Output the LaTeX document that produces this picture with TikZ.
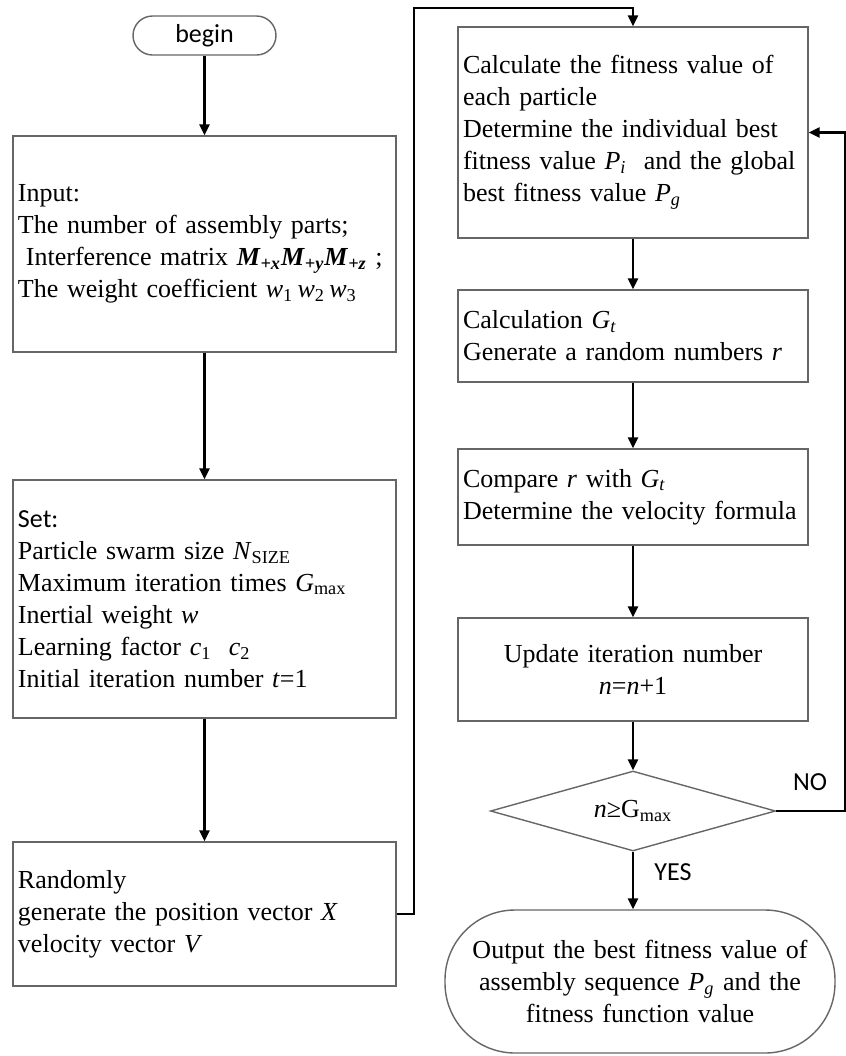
\documentclass[tikz,border=0pt]{standalone}
\usepackage{fontspec}
\setmainfont{Liberation Serif}
\newfontfamily\carlito{Carlito}
\usetikzlibrary{arrows.meta,shapes.geometric}

\newcommand\bM[1]{\textbf{\textit{M}\textsubscript{\textit{#1}}}}
\newcommand\sub[2]{\textit{#1}\textsubscript{#2}}

\tikzset{
  box/.style={draw=black!60, line width=0.7pt, align=left, inner xsep=2.5pt, inner ysep=0pt,
    font=\fontsize{13}{16}\selectfont},
  lbox/.style={box, minimum width=191.5pt, text width=186.5pt},
  rbox/.style={box, minimum width=175pt, text width=170pt},
  flow/.style={line width=1.25pt, -{Triangle[length=5.5pt,width=5pt]}},
  sanslabel/.style={font=\carlito\fontsize{13}{16}\selectfont}
}

\begin{document}
\begin{tikzpicture}[x=0.5pt, y=-0.5pt]
  \useasboundingbox (0,0) rectangle (846,1056);

  % left column
  \node[draw=black!60, line width=0.7pt, rounded corners=9.75pt, minimum width=71.5pt,
        minimum height=19.5pt, sanslabel] (begin) at (204.5,35.5) {begin};
  \node[lbox, minimum height=108pt] (input) at (204.5,244) {Input:\\
    The number of assembly parts;\\
    \mbox{\hspace*{4pt}Interference matrix \bM{+x}\bM{+y}\bM{+z} ;}\\
    The weight coefficient \sub{w}{1}\,\sub{w}{2}\,\sub{w}{3}};
  \node[lbox, minimum height=119pt] (set) at (204.5,599) {{\carlito Set:}\\
    Particle swarm size \sub{N}{SIZE}\\
    Maximum iteration times \sub{G}{max}\\
    Inertial weight \textit{w}\\
    Learning factor \sub{c}{1}\ \ \sub{c}{2}\\
    Initial iteration number \textit{t}=1};
  \node[lbox, minimum height=72pt] (rnd) at (204.5,914) {Randomly\\
    generate the position vector \textit{X}\\
    velocity vector \textit{V}};

  % right column
  \node[rbox, minimum height=105.5pt] (calc) at (633,132.5) {Calculate the fitness value of\\
    each particle\\
    Determine the individual best\\
    fitness value \sub{P}{\textit{i}}\ \ and the global\\
    best fitness value \sub{P}{\textit{g}}};
  \node[rbox, minimum height=46pt] (gt) at (633,336) {Calculation \sub{G}{\textit{t}}\\
    Generate a random numbers \textit{r}};
  \node[rbox, minimum height=48pt] (cmp) at (633,497) {Compare \textit{r} with \sub{G}{\textit{t}}\\
    Determine the velocity formula};
  \node[rbox, minimum height=51.5pt, align=center] (upd) at (633,669.5) {Update iteration number\\
    \textit{n}=\textit{n}+1};
  \node[diamond, draw=black!60, line width=0.7pt, aspect=3.5, inner sep=0pt, minimum width=142.5pt,
        minimum height=40pt, font=\fontsize{13}{16}\selectfont] (dec) at (633,811)
        {\textit{n}≥G\textsubscript{max}};
  \node[box, align=center, rounded corners=35pt, minimum width=195pt, minimum height=71.5pt,
        text width=185pt] (out) at (640,981.5) {Output the best fitness value of\\
    assembly sequence \sub{P}{\textit{g}} and the\\
    fitness function value};

  \node[sanslabel] (no) at (810,782) {NO};
  \node[sanslabel] (yes) at (673,872) {YES};

  % connectors
  \coordinate (top) at (414,8);
  \draw[flow] (begin) -- (input);
  \draw[flow] (input) -- (set);
  \draw[flow] (set) -- (rnd);
  \draw[flow] (rnd.east) -| (top) -| (calc.north);
  \draw[flow] (calc) -- (gt);
  \draw[flow] (gt) -- (cmp);
  \draw[flow] (cmp) -- (upd);
  \draw[flow] (upd) -- (dec);
  \draw[flow] (dec.south) -- (dec.south |- out.north);
  \draw[flow] (dec.east) -| ([xshift=18.5pt]calc.east) -- (calc.east);
\end{tikzpicture}
\end{document}
